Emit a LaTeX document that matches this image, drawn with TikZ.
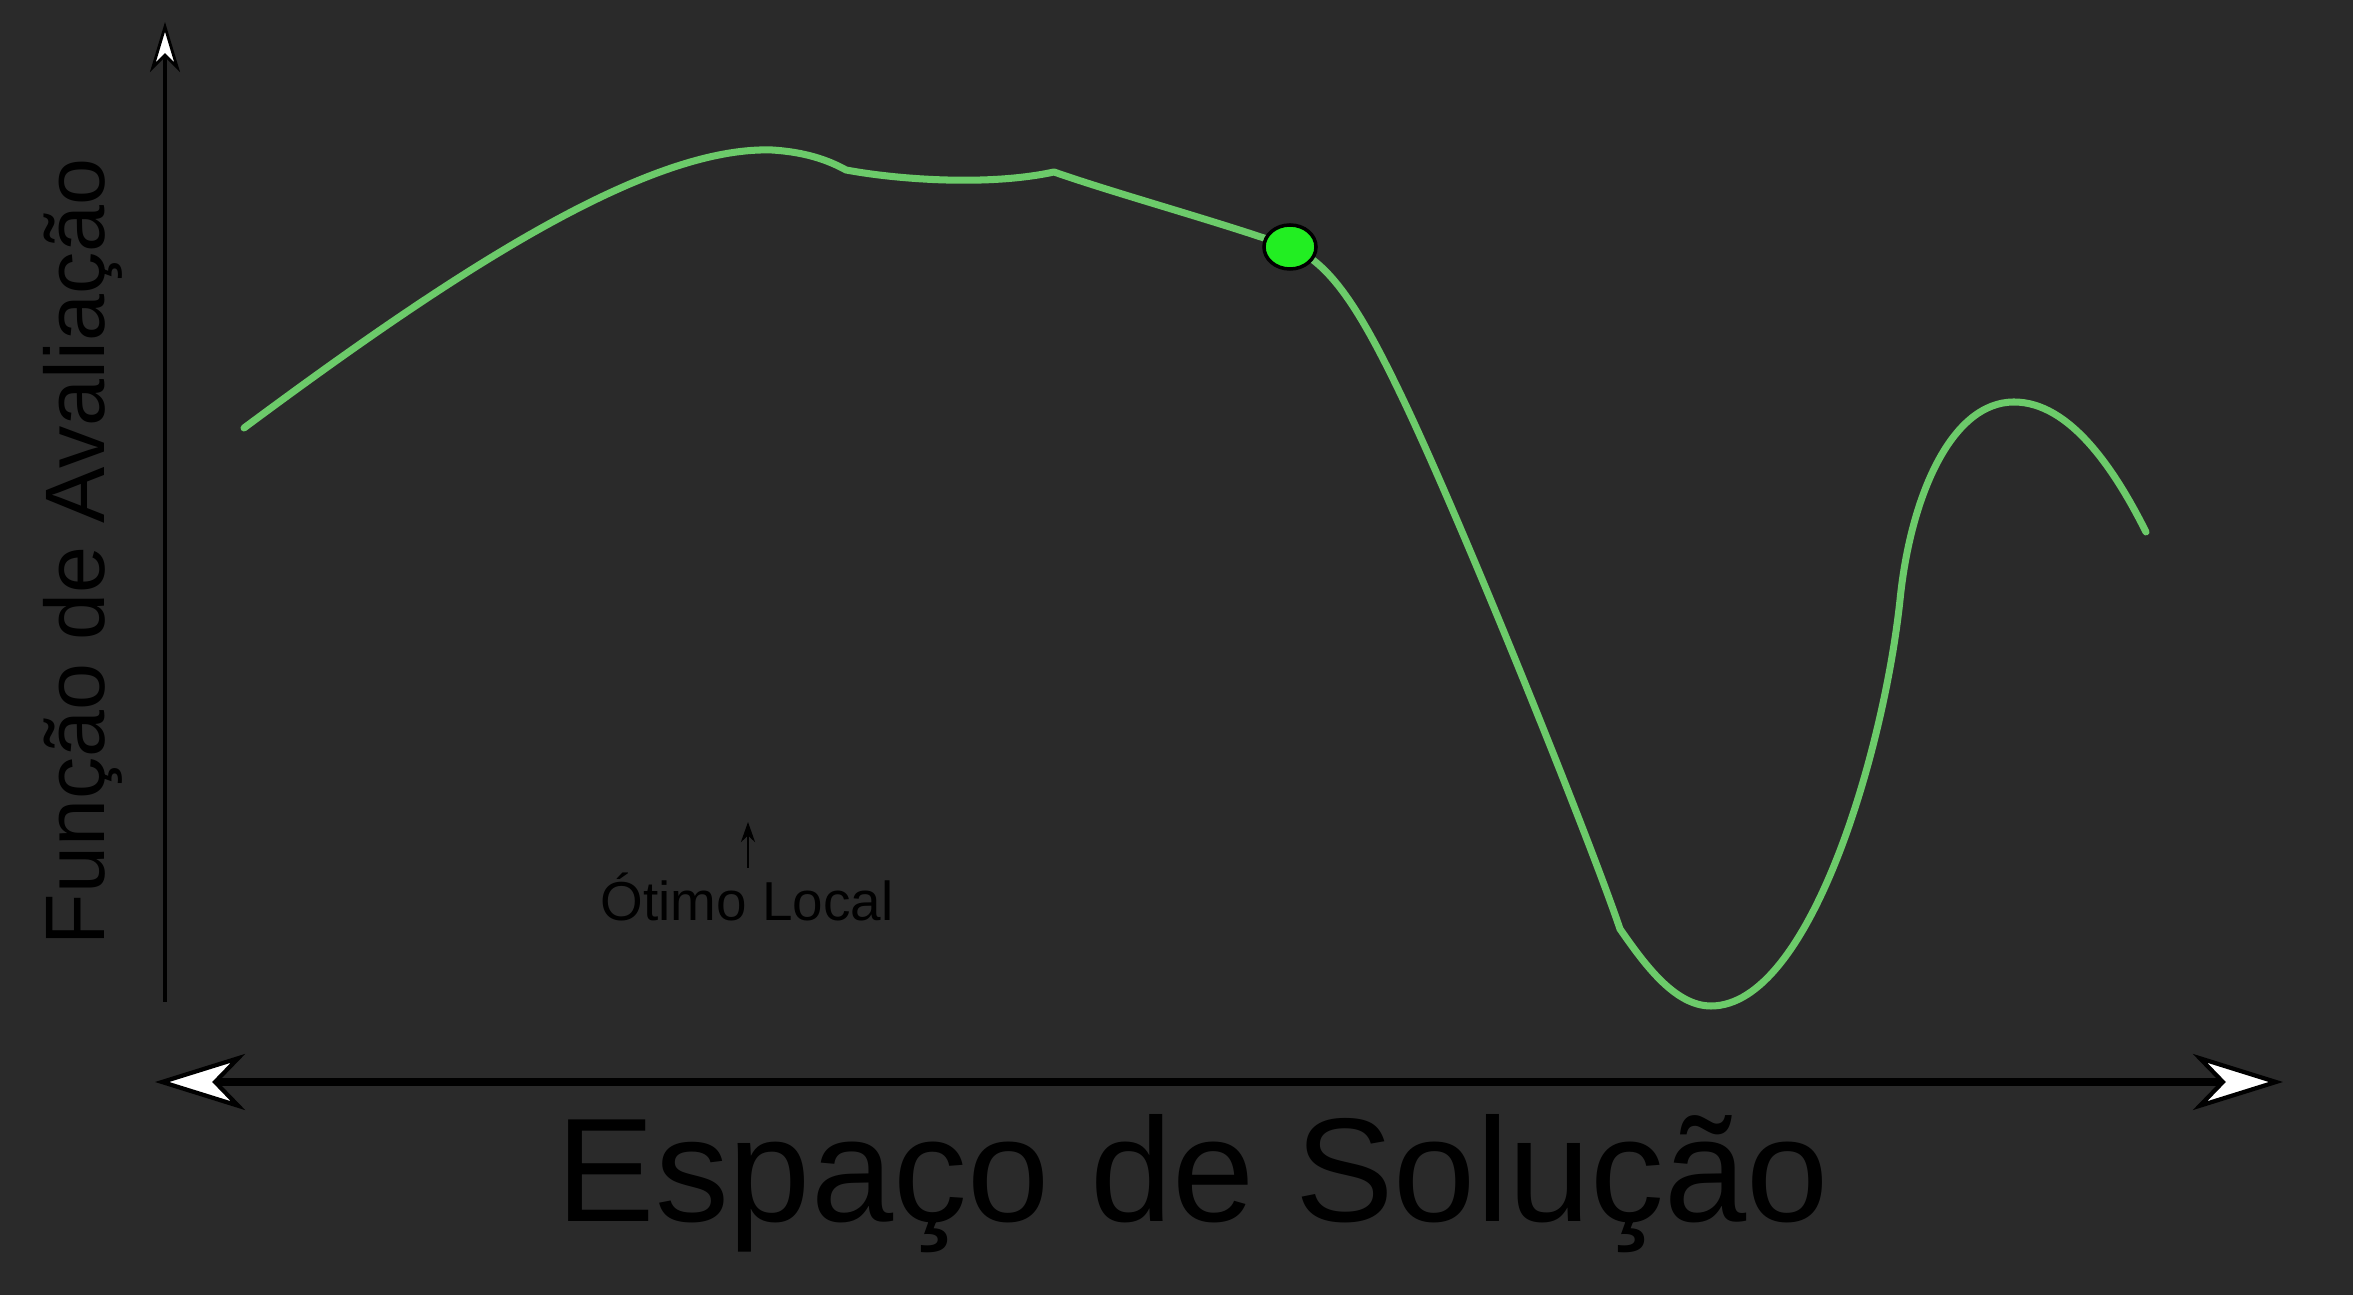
\documentclass[tikz,border=0pt]{standalone}
\usepackage{fontspec}
\setmainfont{Liberation Sans}
\usetikzlibrary{arrows.meta,shapes.geometric}
\definecolor{fundo}{HTML}{2A2A2A}
\definecolor{verdecurva}{HTML}{6CCB6A}
\definecolor{verdeponto}{HTML}{22EE22}

\begin{document}
\begin{tikzpicture}[
    x=0.01cm, y=-0.01cm,
    haxis/.style={draw=black, line width=2.3pt, >={Stealth[length=0.9cm,width=0.56cm,inset=0.27cm,fill=white,line width=1.2pt]}, <->},
    vaxis/.style={draw=black, line width=1.3pt, -{Stealth[length=0.5cm,width=0.3cm,inset=0.15cm,fill=white,line width=0.8pt]}},
    curve/.style={draw=verdecurva, line width=2pt, line cap=round, line join=round},
    dot/.style={ellipse, draw=black, line width=1pt, fill=verdeponto, minimum width=0.52cm, minimum height=0.44cm, inner sep=0pt},
    pointer/.style={draw=black, line width=0.8pt, -{Stealth[length=0.2cm,width=0.14cm]}},
    bigtext/.style={font=\fontsize{42}{50}\selectfont, text=black, inner sep=0pt},
    midtext/.style={font=\fontsize{24}{29}\selectfont, text=black, inner sep=0pt},
    smalltext/.style={font=\fontsize{15.6}{19}\selectfont, text=black, inner sep=0pt}
]

% Background
\fill[fundo] (0,0) rectangle (2353,1295);
\useasboundingbox (0,0) rectangle (2353,1295);

% Axes
\coordinate (xmin) at (155,1082);
\coordinate (xmax) at (2283,1082);
\coordinate (yorig) at (165,1002);
\coordinate (ytop) at (165,22);
\draw[haxis] (xmin) -- (xmax);
\draw[vaxis] (yorig) -- (ytop);

% Labels
\node[bigtext] (espaco) at (1193,1184) {Espaço de Solução};
\node[midtext, rotate=90] (funcao) at (83,552) {Função de Avaliação};

% Evaluation curve
\draw[curve] (244,428)
    .. controls (450,275) and (645,146) .. (772,150)
    .. controls (805,152) and (828,160) .. (846,170)
    .. controls (900,180) and (990,186) .. (1054,172)
    .. controls (1120,195) and (1220,222) .. (1290,247)
    .. controls (1330,262) and (1360,310) .. (1400,393)
    .. controls (1460,517) and (1590,840) .. (1620,929)
    .. controls (1645,965) and (1675,1006) .. (1711,1006)
    .. controls (1810,1006) and (1884,750) .. (1900,600)
    .. controls (1910,500) and (1950,402) .. (2014,402)
    .. controls (2070,402) and (2115,470) .. (2146,532);

% Current solution
\node[dot] (atual) at (1290,247) {};

% Local optimum
\node[smalltext] (otimo) at (747,897) {Ótimo Local};
\coordinate (otimobase) at (748,868);
\coordinate (otimoponta) at (748,822);
\draw[pointer] (otimobase) -- (otimoponta);

\end{tikzpicture}
\end{document}
